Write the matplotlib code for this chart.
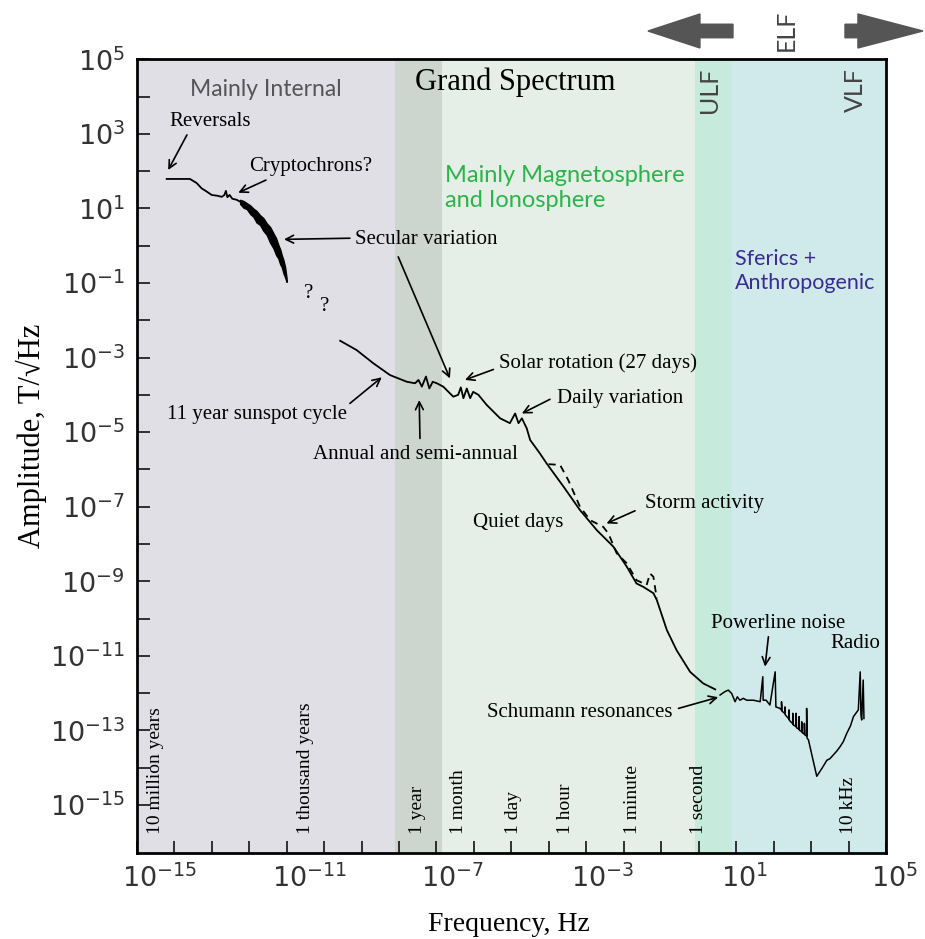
import numpy as np
import matplotlib
matplotlib.use('Agg')
import matplotlib.pyplot as plt
import matplotlib.transforms as mtransforms
from matplotlib.patches import FancyArrow
from matplotlib.ticker import NullLocator

plt.rcParams['mathtext.fontset'] = 'custom'
plt.rcParams['mathtext.rm'] = 'Liberation Sans'
plt.rcParams['mathtext.it'] = 'Liberation Sans:italic'
plt.rcParams['mathtext.default'] = 'regular'

SERIF = ['Liberation Serif', 'DejaVu Serif']
HUMAN = ['Lato', 'DejaVu Sans']

# ---------------- data (log10 frequency [Hz], log10 amplitude [T/sqrt(Hz)]) -------------
# internal field: reversals / cryptochrons
seg1_logf = [-14.20, -13.58, -13.40, -13.27, -13.13, -13.00, -12.85, -12.73, -12.66,
             -12.62, -12.58, -12.52, -12.45, -12.33, -12.24]
seg1_loga = [1.79, 1.79, 1.68, 1.54, 1.45, 1.36, 1.34, 1.31, 1.36,
             1.47, 1.30, 1.36, 1.26, 1.23, 1.18]
# secular variation (noisy band: upper / lower envelope)
sec_logf = [-12.24, -12.15, -12.06, -11.97, -11.89, -11.80, -11.71, -11.62, -11.53,
            -11.44, -11.35, -11.28, -11.22, -11.17, -11.13, -11.08, -11.04, -11.00]
sec_upper = [1.23, 1.20, 1.14, 1.08, 1.00, 0.93, 0.82, 0.74, 0.60,
             0.50, 0.33, 0.20, 0.02, -0.10, -0.25, -0.40, -0.57, -0.87]
sec_lower = [1.12, 1.02, 0.98, 0.85, 0.78, 0.62, 0.56, 0.40, 0.29,
             0.08, -0.07, -0.25, -0.34, -0.50, -0.57, -0.75, -0.85, -0.97]
# external field: sunspot cycle ... quiet days
seg2_logf = [-9.57, -9.13, -8.69, -8.24, -7.79, -7.57, -7.48, -7.39, -7.28, -7.19, -7.10,
             -6.99, -6.82, -6.55, -6.42, -6.35, -6.28, -6.19, -6.10, -6.02, -5.88, -5.66,
             -5.48, -5.30, -5.04, -4.90, -4.81, -4.72, -4.59, -4.50, -4.37, -4.24, -4.06,
             -3.61, -3.17, -2.72, -2.28, -1.92, -1.66, -1.48, -1.21, -1.12, -0.94, -0.85,
             -0.59, -0.23, 0.12, 0.44]
seg2_loga = [-2.55, -2.80, -3.15, -3.47, -3.65, -3.69, -3.60, -3.78, -3.51, -3.83, -3.65,
             -3.69, -3.78, -4.05, -4.00, -3.80, -4.09, -3.83, -4.09, -3.92, -4.00, -4.27,
             -4.45, -4.63, -4.76, -4.50, -4.76, -4.63, -4.90, -5.21, -5.39, -5.57, -5.84,
             -6.46, -7.09, -7.63, -8.07, -8.61, -9.06, -9.15, -9.32, -9.50, -10.04, -10.31,
             -10.85, -11.43, -11.74, -11.90]
# storm activity (dashed)
storm_logf = [-4.01, -3.70, -3.48, -3.17, -2.90, -2.55, -2.41, -2.19, -1.92, -1.66,
              -1.39, -1.30, -1.21, -1.12]
storm_loga = [-5.86, -5.88, -6.29, -7.00, -7.36, -7.54, -7.72, -8.25, -8.52, -8.97,
              -9.10, -8.79, -8.88, -9.46]
# Schumann resonances, powerline noise, radio
seg3_logf = [0.57, 0.70, 0.79, 0.88, 0.97, 1.03, 1.10, 1.19, 1.28, 1.46, 1.64, 1.71, 1.72,
             1.80, 1.90, 2.04, 2.06, 2.17, 2.21, 2.21, 2.22, 2.30, 2.30, 2.31, 2.41, 2.41,
             2.42, 2.51, 2.51, 2.52, 2.60, 2.60, 2.61, 2.68, 2.68, 2.69, 2.75, 2.75, 2.76,
             2.82, 2.82, 2.83, 2.88, 2.88, 2.89, 2.93, 3.15, 3.30, 3.42, 3.50, 3.59, 3.68,
             3.77, 3.86, 3.95, 4.05, 4.13, 4.26, 4.31, 4.33, 4.35, 4.39, 4.41]
seg3_loga = [-12.05, -11.96, -11.92, -12.01, -12.23, -12.10, -12.19, -12.14, -12.19, -12.19,
             -12.23, -11.56, -12.19, -12.19, -12.32, -11.43, -12.37, -12.41, -12.46, -12.23,
             -12.48, -12.55, -12.37, -12.58, -12.70, -12.45, -12.73, -12.82, -12.54, -12.85,
             -12.90, -12.54, -12.93, -12.97, -12.63, -13.00, -13.03, -12.77, -13.06, -13.10,
             -12.81, -13.12, -13.15, -12.41, -13.20, -13.26, -14.23, -14.00, -13.80, -13.76,
             -13.66, -13.56, -13.44, -13.30, -13.08, -12.88, -12.63, -12.45, -11.43, -12.60,
             -12.72, -11.65, -12.68]

# shaded regions (log10 frequency edges) and colours
band_edges = [-15.0, -8.10, -6.86, -0.10, 0.88, 5.0]
band_colors = ['#e0dfe6', '#cdd5cf', '#e5efe7', '#c6eadb', '#d0eaeb']

# axis ticks
xtick_exps = list(range(-15, 6))
xlabel_exps = [-15, -11, -7, -3, 1, 5]
ytick_exps = list(range(-15, 6))
ylabel_exps = [5, 3, 1, -1, -3, -5, -7, -9, -11, -13, -15]

# period labels along the bottom (log10 frequency)
period_labels = ['10 million years', '1 thousand years', '1 year', '1 month', '1 day',
                 '1 hour', '1 minute', '1 second', '10 kHz']
period_logf = [-14.50, -10.50, -7.50, -6.42, -4.94, -3.56, -1.78, 0.0, 4.0]

# annotations: text, (x, y) text centre, alignment
notes = [
    ('Reversals', -13.04, 3.34, 'center'),
    ('Cryptochrons?', -10.35, 2.12, 'center'),
    ('Secular variation', -7.26, 0.17, 'center'),
    ('?', -10.42, -1.28, 'center'),
    ('?', -9.99, -1.64, 'center'),
    ('11 year sunspot cycle', -11.80, -4.54, 'center'),
    ('Annual and semi-annual', -7.55, -5.61, 'center'),
    ('Solar rotation (27 days)', -2.70, -3.15, 'center'),
    ('Daily variation', -2.10, -4.09, 'center'),
    ('Quiet days', -4.82, -7.43, 'center'),
    ('Storm activity', 0.15, -6.91, 'center'),
    ('Powerline noise', 2.11, -10.13, 'center'),
    ('Radio', 4.19, -10.67, 'center'),
    ('Schumann resonances', -0.69, -12.53, 'right'),
]
# arrows: (tail x, tail y, head x, head y)
arrows = [
    (-13.66, 2.97, -14.16, 2.03),
    (-11.55, 1.76, -12.29, 1.42),
    (-9.31, 0.20, -11.07, 0.17),
    (-8.02, -0.30, -6.64, -3.56),
    (-9.31, -4.23, -8.46, -3.53),
    (-7.44, -5.17, -7.46, -4.14),
    (-5.48, -3.32, -6.24, -3.60),
    (-3.97, -4.12, -4.72, -4.50),
    (-1.70, -7.11, -2.46, -7.45),
    (1.86, -10.49, 1.77, -11.29),
    (-0.54, -12.41, 0.52, -12.11),
]

# ---------------- figure ----------------
fig = plt.figure(figsize=(9.25, 9.39), dpi=100)
ax = fig.add_axes([0.1478, 0.0919, 0.8101, 0.8450])
ax.set_xscale('log')
ax.set_yscale('log')

for i, c in enumerate(band_colors):
    ax.axvspan(10.0 ** band_edges[i], 10.0 ** band_edges[i + 1], color=c, lw=0, zorder=0)

p = lambda v: 10.0 ** np.asarray(v)
lw = 1.3
ax.plot(p(seg1_logf), p(seg1_loga), color='black', lw=lw, zorder=3)
ax.fill_between(p(sec_logf), p(sec_lower), p(sec_upper), color='black', lw=1.0, zorder=3)
ax.plot(p(seg2_logf), p(seg2_loga), color='black', lw=lw, zorder=3)
ax.plot(p(storm_logf), p(storm_loga), color='black', lw=lw, ls=(0, (4, 3)), zorder=3)
ax.plot(p(seg3_logf), p(seg3_loga), color='black', lw=1.1, zorder=3)

# ticks
for side in ['top', 'right', 'bottom', 'left']:
    ax.spines[side].set_linewidth(2.0)
ax.xaxis.set_minor_locator(NullLocator())
ax.yaxis.set_minor_locator(NullLocator())
ax.set_xticks(p(xtick_exps))
ax.set_xticklabels([f'$10^{{{e}}}$' if e in xlabel_exps else '' for e in xtick_exps])
ax.set_yticks(p(ytick_exps))
ax.set_yticklabels([f'$10^{{{e}}}$' if e in ylabel_exps else '' for e in ytick_exps])
fs_tick = 19.5
ax.tick_params(direction='in', length=9, width=1.1, labelsize=fs_tick, labelcolor='#333333',
               pad=8.5, top=False, right=False)
ax.set_xlim(10.0 ** -15, 10.0 ** 5)
ax.set_ylim(10.0 ** -16.28, 10.0 ** 5)

off = mtransforms.ScaledTranslation(-0.556 * fs_tick / 72.0, 0, fig.dpi_scale_trans)
for lbl in ax.get_xticklabels():
    lbl.set_ha('left')
    lbl.set_transform(lbl.get_transform() + off)

ax.set_xlabel('Frequency, Hz', family=SERIF, fontsize=20)
ax.xaxis.label.set_va('center')
ax.xaxis.set_label_coords(0.497, -0.091)
ax.set_ylabel('Amplitude, T/\u221aHz', family=SERIF, fontsize=22)
ax.yaxis.label.set_va('center')
ax.yaxis.set_label_coords(-0.141, 0.525)

# region titles
ax.text(10 ** -11.55, 10 ** 4.20, 'Mainly Internal', family=HUMAN, fontsize=16.5,
        color='#555555', ha='center', va='center')
ax.text(10 ** -4.90, 10 ** 4.39, 'Grand Spectrum', family=SERIF, fontsize=22,
        color='black', ha='center', va='center')
ax.text(10 ** -6.77, 10 ** 1.55, 'Mainly Magnetosphere\nand Ionosphere', family=HUMAN,
        fontsize=17, color='#2cb34a', ha='left', va='center', linespacing=1.25)
ax.text(10 ** 0.97, 10 ** -0.68, 'Sferics +\nAnthropogenic', family=HUMAN, fontsize=15.5,
        color='#3a2a96', ha='left', va='center', linespacing=1.2)
ax.text(10 ** 0.30, 10 ** 4.18, 'ULF', family=HUMAN, fontsize=18, color='#444444',
        rotation=90, ha='center', va='center')
ax.text(10 ** 4.17, 10 ** 4.18, 'VLF', family=HUMAN, fontsize=18, color='#444444',
        rotation=90, ha='center', va='center')

for txt, xl, yl, ha in notes:
    ax.text(10 ** xl, 10 ** yl, txt, family=SERIF, fontsize=15, ha=ha, va='center',
            zorder=4)
for x0, y0, x1, y1 in arrows:
    ax.annotate('', xy=(10 ** x1, 10 ** y1), xytext=(10 ** x0, 10 ** y0),
                arrowprops=dict(arrowstyle='->', color='black', lw=1.2,
                                shrinkA=0, shrinkB=0, mutation_scale=14), zorder=4)

for txt, xl in zip(period_labels, period_logf):
    ax.text(10 ** xl, 10 ** -15.78, txt, family=SERIF, fontsize=14, rotation=90,
            ha='center', va='bottom', zorder=4)

# band arrows above the plot (ELF)
fig.patches.append(FancyArrow(0.7924, 0.967, -0.0919, 0, width=0.0144, head_width=0.0362,
                              head_length=0.0562, length_includes_head=True,
                              color='#555555', transform=fig.transFigure))
fig.patches.append(FancyArrow(0.9135, 0.967, 0.0843, 0, width=0.0144, head_width=0.0362,
                              head_length=0.0703, length_includes_head=True,
                              color='#555555', transform=fig.transFigure))
fig.text(786 / 925, 0.968, 'ELF', family=HUMAN, fontsize=18, color='#444444',
         rotation=90, ha='center', va='center')

fig.savefig('out.png', dpi=100, facecolor='white')
